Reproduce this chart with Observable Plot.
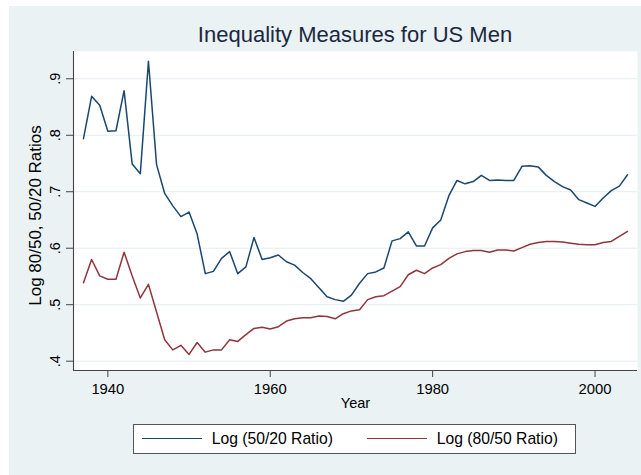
<!DOCTYPE html>
<html>
<head>
<meta charset="utf-8">
<script src="https://cdn.jsdelivr.net/npm/d3@7"></script>
<script src="https://cdn.jsdelivr.net/npm/@observablehq/plot@0.6"></script>
<style>
html, body { margin: 0; padding: 0; background: #ffffff; }
#wrap { position: relative; width: 641px; height: 475px; overflow: hidden; font-family: "Liberation Sans", Arial, Helvetica, sans-serif; }
#bg { position: absolute; left: 9px; top: 6px; right: 0; bottom: 0; background: #eaf2f3; }
#chart { position: absolute; left: 0; top: 0; }
#title { position: absolute; left: 0; width: 710px; top: 22px; text-align: center; font-size: 22px; line-height: 26px; color: #1c2841; white-space: nowrap; }
#legend { position: absolute; left: 133px; top: 424px; width: 441px; height: 28px; background: #ffffff; border: 1.3px solid #555555; }
.sw { position: absolute; height: 0; width: 60px; border-top: 1.5px solid; top: 438.3px; }
.lt { position: absolute; top: 430px; font-size: 15.7px; line-height: 18px; color: #000; white-space: nowrap; }
</style>
</head>
<body>
<div id="wrap">
  <div id="bg"></div>
  <div id="chart"></div>
  <div id="title">Inequality Measures for US Men</div>
  <div id="legend"></div>
  <div class="sw" id="sw1" style="left:142px;"></div>
  <div class="lt" id="lt1" style="left:211.7px;"></div>
  <div class="sw" id="sw2" style="left:367px;"></div>
  <div class="lt" id="lt2" style="left:436.7px;"></div>
</div>
<script>
// ---- data ----
const years = d3.range(1937, 2005);
const ratio5020 = [
  0.794, 0.869, 0.853, 0.807, 0.808, 0.879, 0.749, 0.732, 0.931, 0.748,
  0.697, 0.675, 0.656, 0.664, 0.625, 0.555, 0.559, 0.582, 0.594, 0.555,
  0.567, 0.619, 0.580, 0.583, 0.588, 0.576, 0.570, 0.557, 0.546, 0.530,
  0.514, 0.509, 0.506, 0.517, 0.538, 0.555, 0.558, 0.565, 0.613, 0.617,
  0.629, 0.604, 0.604, 0.636, 0.650, 0.693, 0.720, 0.714, 0.718, 0.729,
  0.720, 0.721, 0.720, 0.720, 0.745, 0.746, 0.744, 0.729, 0.718, 0.709,
  0.703, 0.686, 0.680, 0.674, 0.689, 0.702, 0.710, 0.730
];
const ratio8050 = [
  0.539, 0.580, 0.551, 0.545, 0.545, 0.593, 0.551, 0.512, 0.536, 0.487,
  0.438, 0.420, 0.428, 0.412, 0.433, 0.416, 0.420, 0.420, 0.438, 0.435,
  0.447, 0.458, 0.460, 0.457, 0.461, 0.471, 0.475, 0.477, 0.477, 0.480,
  0.479, 0.475, 0.484, 0.489, 0.491, 0.509, 0.514, 0.516, 0.524, 0.532,
  0.553, 0.561, 0.555, 0.565, 0.571, 0.582, 0.590, 0.594, 0.596, 0.596,
  0.593, 0.597, 0.597, 0.595, 0.601, 0.607, 0.610, 0.612, 0.612, 0.611,
  0.609, 0.607, 0.606, 0.606, 0.610, 0.612, 0.621, 0.630
];
const seriesNames = ["Log (50/20 Ratio)", "Log (80/50 Ratio)"];
const seriesColors = ["#1a476f", "#90353b"];
const xTicks = [1940, 1960, 1980, 2000];
const yTicks = [0.4, 0.5, 0.6, 0.7, 0.8, 0.9];
const xDomain = [1935.77, 2005.23];
const yDomain = [0.3835, 0.9483];
const titleText = "Inequality Measures for US Men";
const xLabel = "Year";
const yLabel = "Log 80/50, 50/20 Ratios";

// ---- table ----
const rows = years.map((yr, i) => ({year: yr, a: ratio5020[i], b: ratio8050[i]}));
const fmtY = d => d.toFixed(1).replace(/^0/, "");
const axisColor = "#444444";

const chart = Plot.plot({
  width: 641,
  height: 475,
  marginLeft: 73,
  marginRight: 4,
  marginTop: 51,
  marginBottom: 105,
  style: {background: "transparent", fontFamily: "'Liberation Sans', Arial, Helvetica, sans-serif", color: "#000"},
  x: {domain: xDomain, axis: null},
  y: {domain: yDomain, axis: null},
  marks: [
    Plot.frame({fill: "#ffffff", stroke: null}),
    Plot.ruleY(yTicks, {stroke: "#e3edf0", strokeWidth: 1}),
    Plot.axisX({ticks: xTicks, tickSize: 7, tickPadding: 5.7, tickFormat: d => String(d), fontSize: 14.8, stroke: axisColor, fill: "#000", label: null}),
    Plot.axisY({ticks: yTicks, tickSize: 7, tickFormat: () => "", stroke: axisColor, label: null}),
    Plot.text(yTicks, {y: d => d, text: fmtY, frameAnchor: "left", textAnchor: "middle", lineAnchor: "middle", dx: -18, rotate: -90, fontSize: 14.5, fill: "#000"}),
    Plot.text([yLabel], {frameAnchor: "left", textAnchor: "middle", lineAnchor: "middle", dx: -38, dy: 4.5, rotate: -90, fontSize: 17, fill: "#000"}),
    Plot.text([xLabel], {frameAnchor: "bottom", dy: 37, fontSize: 14.5, fill: "#000"}),
    Plot.ruleY([yDomain[0]], {stroke: axisColor, strokeWidth: 1.1}),
    Plot.ruleX([xDomain[0]], {stroke: axisColor, strokeWidth: 1.1}),
    Plot.line(rows, {x: "year", y: "a", stroke: seriesColors[0], strokeWidth: 1.5}),
    Plot.line(rows, {x: "year", y: "b", stroke: seriesColors[1], strokeWidth: 1.5})
  ]
});
document.getElementById("chart").appendChild(chart);
document.getElementById("title").textContent = titleText;
document.getElementById("sw1").style.borderTopColor = seriesColors[0];
document.getElementById("sw2").style.borderTopColor = seriesColors[1];
document.getElementById("lt1").textContent = seriesNames[0];
document.getElementById("lt2").textContent = seriesNames[1];
</script>
</body>
</html>
